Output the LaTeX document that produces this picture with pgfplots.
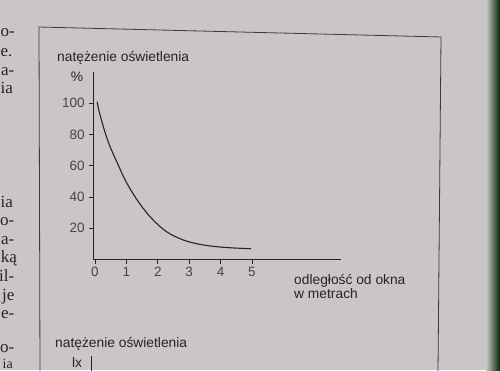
\documentclass[border=0pt]{standalone}
\usepackage{fontspec}
\setmainfont{Liberation Sans}
\newfontfamily\seriffont{Liberation Serif}
\usepackage{pgfplots}
\pgfplotsset{compat=1.18}
\definecolor{paper}{RGB}{201,197,201}
\definecolor{ink}{RGB}{38,36,40}
\begin{document}
\begin{tikzpicture}[x=1pt,y=1pt]
\useasboundingbox (0,0) rectangle (500,370);
\clip (0,0) rectangle (500,370);
\fill[paper] (0,0) rectangle (500,370);
\shade[left color=paper, right color=black!85!green] (486,0) rectangle (500,370);
% frame of the figure
\draw[ink!90, line width=0.8pt] (40,-2) -- (39,343) -- (441,333) -- (438,-2);
% left margin text fragments
\begin{scope}[every node/.style={anchor=base east, inner sep=0pt, text=ink, font=\seriffont\fontsize{17}{19}\selectfont}]
\node at (15,333) {o-};
\node at (12.5,313) {e.};
\node at (14.5,294) {a-};
\node at (13,276) {ia};
\node at (13,163) {ia};
\node at (14.5,145) {o-};
\node at (14.5,126) {a-};
\node at (17,108) {ką};
\node at (14.5,89) {il-};
\node at (14.5,70) {je};
\node at (14.5,52) {e-};
\node at (14.5,18) {o-};
\node[font=\seriffont\fontsize{14}{16}\selectfont] at (13,2) {ia};
\end{scope}
\begin{axis}[
  at={(93.1pt,110.5pt)}, anchor=south west,
  scale only axis, width=248.4pt, height=187.5pt,
  xmin=-0.06, xmax=7.85, ymin=0, ymax=120,
  axis x line*=bottom, axis y line*=left,
  x axis line style={-, ink, line width=0.9pt},
  y axis line style={-, ink, line width=0.9pt},
  xtick={0,1,2,3,4,5}, ytick={20,40,60,80,100},
  tick align=outside, major tick length=4pt,
  tick style={ink, line width=0.7pt},
  /pgf/number format/assume math mode=true,
  ticklabel style={font=\fontsize{13.5}{15}\selectfont, text=ink!85},
  yticklabel style={xshift=-1pt},
  clip=false,
]
\addplot[ink, line width=1.1pt, smooth, tension=0.6] coordinates {
(0.07,101) (0.16,92.5) (0.42,75.4) (0.74,60.5) (1.0,49.4) (1.38,37)
(1.8,26.4) (2.28,17.8) (2.81,12.5) (3.34,9.7) (3.87,8.2) (4.4,7.4) (4.97,6.9)
};
\end{axis}
\begin{scope}[every node/.style={inner sep=0pt, text=ink, font=\fontsize{13.8}{15}\selectfont}]
\node[anchor=west] at (57,312) {natężenie oświetlenia};
\node at (77,293) {\%};
\node[anchor=west] at (294,89) {odległość od okna};
\node[anchor=west] at (294,76) {w metrach};
\node[anchor=west] at (55,26) {natężenie oświetlenia};
\node at (77,8) {lx};
\end{scope}
\draw[ink, line width=0.9pt] (91,-2) -- (91,14);
\end{tikzpicture}
\end{document}
